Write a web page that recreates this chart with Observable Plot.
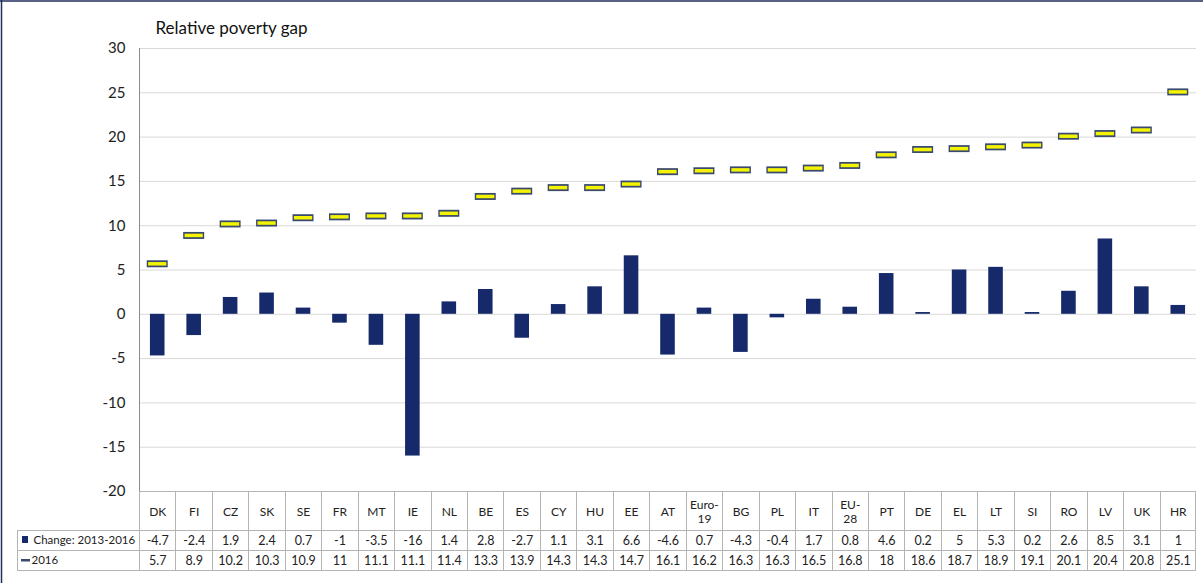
<!DOCTYPE html>
<html>
<head>
<meta charset="utf-8">
<script src="https://cdn.jsdelivr.net/npm/d3@7"></script>
<script src="https://cdn.jsdelivr.net/npm/@observablehq/plot@0.6"></script>
<style>
  html, body { margin: 0; padding: 0; background: #fff; }
  #chart { width: 1203px; height: 583px; }
  svg { display: block; }
</style>
</head>
<body>
<div id="chart"></div>
<script>
const title = "Relative poverty gap";
const categories = ["DK","FI","CZ","SK","SE","FR","MT","IE","NL","BE","ES","CY","HU","EE","AT","Euro-19","BG","PL","IT","EU-28","PT","DE","EL","LT","SI","RO","LV","UK","HR"];
const change = [-4.7,-2.4,1.9,2.4,0.7,-1,-3.5,-16,1.4,2.8,-2.7,1.1,3.1,6.6,-4.6,0.7,-4.3,-0.4,1.7,0.8,4.6,0.2,5,5.3,0.2,2.6,8.5,3.1,1];
const value2016 = [5.7,8.9,10.2,10.3,10.9,11,11.1,11.1,11.4,13.3,13.9,14.3,14.3,14.7,16.1,16.2,16.3,16.3,16.5,16.8,18,18.6,18.7,18.9,19.1,20.1,20.4,20.8,25.1];
const seriesNames = ["Change: 2013-2016", "2016"];
const yTicks = [-20,-15,-10,-5,0,5,10,15,20,25,30];

const data = categories.map((c, i) => ({cat: c, change: change[i], v: value2016[i]}));

const barColor = "#15296b";
const markerStroke = "#3a4a6e";
const markerFill = "#f4f400";
const lineColor = "#b4b4b4";
const font = "Lato, 'Liberation Sans', sans-serif";

// Table grid, axis line and legend keys, positioned with Plot's x band scale
function tableGrid(index, scales, values, dims) {
  const x = scales.x;
  const bw = x.bandwidth();
  const step = x.step();
  const off = (step - bw) / 2;
  const top = dims.height - dims.marginBottom;
  const left = dims.marginLeft;
  const right = dims.width - dims.marginRight;
  const r1 = top + 39, r2 = r1 + 20, r3 = r2 + 20;
  const legLeft = 17;
  const g = d3.create("svg:g").attr("fill", "none");
  const line = (x1, y1, x2, y2, c, w) => g.append("line")
    .attr("x1", x1).attr("y1", y1).attr("x2", x2).attr("y2", y2)
    .attr("stroke", c).attr("stroke-width", w || 1);
  // y axis line
  line(left + 0.5, dims.marginTop, left + 0.5, top, "#8c8c8c");
  // table horizontal lines
  line(left, top + 0.5, right, top + 0.5, lineColor);
  [r1, r2, r3].forEach(yy => line(legLeft, yy + 0.5, right, yy + 0.5, lineColor));
  // table vertical lines
  line(legLeft + 0.5, r1, legLeft + 0.5, r3, lineColor);
  categories.forEach(c => {
    const xl = Math.round(x(c) - off) + 0.5;
    line(xl, top, xl, r3, lineColor);
  });
  line(Math.round(right) - 0.5, top, Math.round(right) - 0.5, r3, lineColor);
  // legend keys
  g.append("rect").attr("x", 22).attr("y", r1 + 6).attr("width", 6).attr("height", 7).attr("fill", barColor);
  g.append("rect").attr("x", 21).attr("y", r2 + 9).attr("width", 9).attr("height", 2.5).attr("fill", markerStroke);
  // outer frame (left & top edges)
  line(1.5, 0, 1.5, dims.height, "#1f2d5a", 1.5);
  line(0, 1, dims.width, 1, "#1f2d5a", 1.5);
  return g.node();
}

const txt = {fontSize: 12.5, fill: "#222", lineAnchor: "middle"};

const chart = Plot.plot({
  width: 1203,
  height: 583,
  marginLeft: 139,
  marginRight: 7,
  marginTop: 48,
  marginBottom: 92,
  style: {fontFamily: font, color: "#222", background: "#fff"},
  x: {domain: categories, paddingInner: 0.6, paddingOuter: 0.3, round: false, axis: null},
  y: {domain: [-20, 30], axis: null},
  marks: [
    Plot.gridY(yTicks, {stroke: "#d9d9d9", strokeOpacity: 1}),
    Plot.axisY(yTicks, {tickSize: 0, tickPadding: 14, fontSize: 15, tickFormat: d => String(d)}),
    Plot.barY(data, {x: "cat", y: "change", fill: barColor}),
    Plot.tickY(data, {x: "cat", y: "v", stroke: markerStroke, strokeWidth: 7, insetLeft: -3.2, insetRight: -3.2}),
    Plot.tickY(data, {x: "cat", y: "v", stroke: markerFill, strokeWidth: 3.5, insetLeft: -1.8, insetRight: -1.8}),
    tableGrid,
    Plot.text([title], {frameAnchor: "top-left", dx: 16, dy: -20, textAnchor: "start", fontSize: 17, fill: "#111", lineAnchor: "middle"}),
    Plot.text(categories, {...txt, x: d => d, frameAnchor: "bottom", dy: 20, text: d => d.replace("-", "-\n"), fontSize: 12, lineHeight: 1.15}),
    Plot.text(data, {...txt, x: "cat", frameAnchor: "bottom", dy: 49, text: d => String(d.change)}),
    Plot.text(data, {...txt, x: "cat", frameAnchor: "bottom", dy: 69, text: d => String(d.v)}),
    Plot.text([seriesNames[0]], {...txt, frameAnchor: "bottom-left", dx: -106, dy: 49, textAnchor: "start", fontSize: 11.5}),
    Plot.text([seriesNames[1]], {...txt, frameAnchor: "bottom-left", dx: -108, dy: 69, textAnchor: "start", fontSize: 11.5})
  ]
});
document.getElementById("chart").appendChild(chart);
</script>
</body>
</html>
